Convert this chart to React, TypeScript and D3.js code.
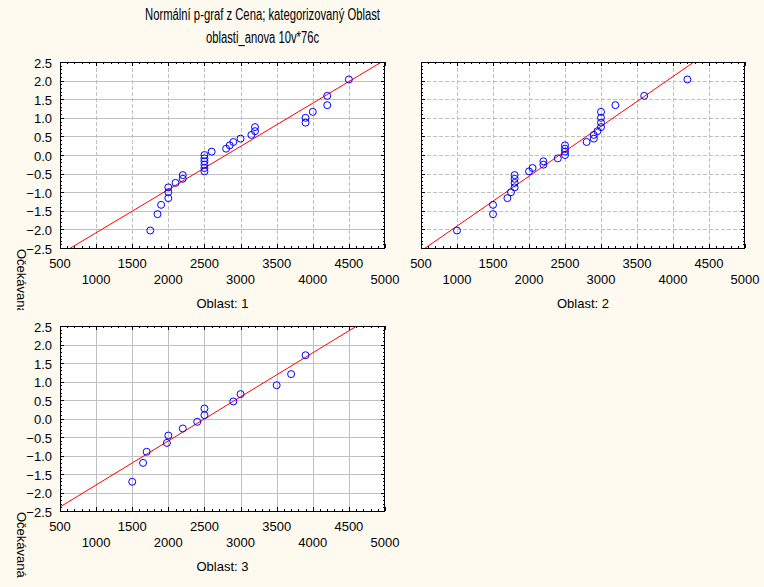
import React from 'react';
import * as d3 from 'd3';

const titleLine1 = 'Normální p-graf z Cena; kategorizovaný Oblast';
const titleLine2 = 'oblasti_anova 10v*76c';
const yAxisLabel = 'Očekávaná';

const xTickValues = [500, 1000, 1500, 2000, 2500, 3000, 3500, 4000, 4500, 5000];
const yTickValues = [-2.5, -2, -1.5, -1, -0.5, 0, 0.5, 1, 1.5, 2, 2.5];
const oblastLabels = ['Oblast: 1', 'Oblast: 2', 'Oblast: 3'];

const cena1 = [1750, 1850, 1900, 2000, 2000, 2000, 2100, 2200, 2200, 2500, 2500, 2500, 2500, 2500, 2500, 2600, 2800, 2850, 2900, 3000, 3150, 3200, 3200, 3900, 3900, 4000, 4200, 4200, 4500];
const expected1 = [-2.03, -1.59, -1.34, -1.16, -1.0, -0.87, -0.75, -0.64, -0.54, -0.44, -0.35, -0.26, -0.17, -0.09, 0, 0.09, 0.17, 0.26, 0.35, 0.44, 0.54, 0.64, 0.75, 0.87, 1.0, 1.16, 1.34, 1.59, 2.03];

const cena2 = [1000, 1500, 1500, 1700, 1750, 1800, 1800, 1800, 1800, 2000, 2050, 2200, 2200, 2400, 2500, 2500, 2500, 2500, 2800, 2900, 2900, 2950, 3000, 3000, 3000, 3000, 3200, 3600, 4200];
const expected2 = [-2.03, -1.59, -1.34, -1.16, -1.0, -0.87, -0.75, -0.64, -0.54, -0.44, -0.35, -0.26, -0.17, -0.09, 0, 0.09, 0.17, 0.26, 0.35, 0.44, 0.54, 0.64, 0.75, 0.87, 1.0, 1.16, 1.34, 1.59, 2.03];

const cena3 = [1500, 1650, 1700, 1980, 2000, 2200, 2400, 2500, 2500, 2900, 3000, 3500, 3700, 3900];
const expected3 = [-1.71, -1.2, -0.9, -0.66, -0.46, -0.27, -0.09, 0.09, 0.27, 0.46, 0.66, 0.9, 1.2, 1.71];

const fitMean = [2800, 2426, 2509];
const fitSd = [861, 746, 840];

const W = 764;
const H = 587;
const FONT = "'Liberation Sans', Arial, sans-serif";
const NARROW = "'Liberation Sans Narrow', 'Arial Narrow', 'Liberation Sans', Arial, sans-serif";

type PanelCfg = {
  x0: number; x1: number; y0: number; y1: number;
  xs: number[]; ys: number[]; label: string; mean: number; sd: number;
  vDash: boolean; hDash: boolean; showY: boolean; labelClip: [number, number];
};

const panels: PanelCfg[] = [
  { x0: 60, x1: 385, y0: 62, y1: 248, xs: cena1, ys: expected1, label: oblastLabels[0], mean: fitMean[0], sd: fitSd[0], vDash: true, hDash: false, showY: true, labelClip: [0, 310] },
  { x0: 421, x1: 745, y0: 62, y1: 248, xs: cena2, ys: expected2, label: oblastLabels[1], mean: fitMean[1], sd: fitSd[1], vDash: true, hDash: true, showY: false, labelClip: [0, 0] },
  { x0: 60, x1: 385, y0: 326, y1: 511, xs: cena3, ys: expected3, label: oblastLabels[2], mean: fitMean[2], sd: fitSd[2], vDash: false, hDash: false, showY: true, labelClip: [312, 580] },
];

function Panel({ p, idx }: { p: PanelCfg; idx: number }) {
  const x = d3.scaleLinear().domain([500, 5000]).range([p.x0, p.x1]);
  const y = d3.scaleLinear().domain([-2.5, 2.5]).range([p.y1, p.y0]);
  const minorX = d3.range(500, 5001, 100);
  const minorY = d3.range(-25, 26, 1).map((v) => v / 10);
  const clipId = `clip${idx}`;
  const labClip = `lab${idx}`;
  const lineGen = d3.line<number>().x((v) => x(v)).y((v) => y((v - p.mean) / p.sd));
  const grid = '#c0c0c0';
  return (
    <g>
      <defs>
        <clipPath id={clipId}>
          <rect x={p.x0} y={p.y0} width={p.x1 - p.x0} height={p.y1 - p.y0} />
        </clipPath>
        <clipPath id={labClip}>
          <rect x={0} y={p.labelClip[0]} width={40} height={p.labelClip[1] - p.labelClip[0]} />
        </clipPath>
      </defs>
      <rect x={p.x0} y={p.y0} width={p.x1 - p.x0} height={p.y1 - p.y0} fill="#ffffff" />
      {xTickValues.slice(1, -1).map((v) => (
        <line key={'gx' + v} x1={Math.round(x(v)) + 0.5} x2={Math.round(x(v)) + 0.5} y1={p.y0} y2={p.y1}
          stroke={grid} strokeWidth={1} strokeDasharray={p.vDash ? '4,2' : undefined} />
      ))}
      {yTickValues.slice(1, -1).map((v) => (
        <line key={'gy' + v} y1={Math.round(y(v)) + 0.5} y2={Math.round(y(v)) + 0.5} x1={p.x0} x2={p.x1}
          stroke={grid} strokeWidth={1} strokeDasharray={p.hDash ? '4,2' : undefined} />
      ))}
      {minorX.map((v) => {
        const major = (v % 500) === 0;
        const len = major ? 4 : 2;
        const xx = Math.round(x(v)) + 0.5;
        return (
          <g key={'tx' + v}>
            <line x1={xx} x2={xx} y1={p.y0} y2={p.y0 + len} stroke="#000" />
            <line x1={xx} x2={xx} y1={p.y1} y2={p.y1 - len} stroke="#000" />
          </g>
        );
      })}
      {minorY.map((v) => {
        const major = Math.abs(v * 2 - Math.round(v * 2)) < 1e-6;
        const len = major ? 4 : 2;
        const yy = Math.round(y(v)) + 0.5;
        return (
          <g key={'ty' + v}>
            <line x1={p.x0} x2={p.x0 + len} y1={yy} y2={yy} stroke="#000" />
            <line x1={p.x1} x2={p.x1 - len} y1={yy} y2={yy} stroke="#000" />
          </g>
        );
      })}
      <g clipPath={`url(#${clipId})`}>
        <path d={lineGen([400, 5100]) || ''} stroke="#ff0000" strokeWidth={1} fill="none" />
        {p.xs.map((v, i) => (
          <circle key={'pt' + i} cx={x(v)} cy={y(p.ys[i])} r={3.5} fill="none" stroke="#0000ff" strokeWidth={1} />
        ))}
      </g>
      <rect x={p.x0 + 0.5} y={p.y0 + 0.5} width={p.x1 - p.x0 - 1} height={p.y1 - p.y0} fill="none" stroke="#000" strokeWidth={1} />
      {xTickValues.map((v, i) => (
        <text key={'lx' + v} x={x(v)} y={p.y1 + (i % 2 === 0 ? 20 : 35.5)} textAnchor="middle"
          fontFamily={FONT} fontSize={13} fill="#000">{v}</text>
      ))}
      {p.showY && yTickValues.map((v) => (
        <text key={'ly' + v} x={p.x0 - 8} y={y(v) + 5.5} textAnchor="end"
          fontFamily={FONT} fontSize={13} fill="#000">{d3.format('.1f')(v)}</text>
      ))}
      <text x={(p.x0 + p.x1) / 2} y={p.y1 + 60} textAnchor="middle" fontFamily={FONT} fontSize={13} fill="#000">{p.label}</text>
      {p.showY && (
        <g clipPath={`url(#${labClip})`}>
          <text transform={`translate(16.5,${p.y1 + 1}) rotate(90)`} textAnchor="start" fontFamily={FONT} fontSize={13} fill="#000">{yAxisLabel}</text>
        </g>
      )}
    </g>
  );
}

export default function App() {
  return (
    <svg width={W} height={H} style={{ position: 'absolute', left: 0, top: 0, display: 'block' }}>
      <rect x={0} y={0} width={W} height={H} fill="#fffaf0" />
      <text x={262.5} y={20} textAnchor="middle" fontFamily={NARROW} fontSize={16} fill="#000"
        textLength={235} lengthAdjust="spacingAndGlyphs">{titleLine1}</text>
      <text x={262.5} y={43} textAnchor="middle" fontFamily={NARROW} fontSize={16} fill="#000"
        textLength={113} lengthAdjust="spacingAndGlyphs">{titleLine2}</text>
      {panels.map((p, i) => <Panel key={i} p={p} idx={i} />)}
    </svg>
  );
}
